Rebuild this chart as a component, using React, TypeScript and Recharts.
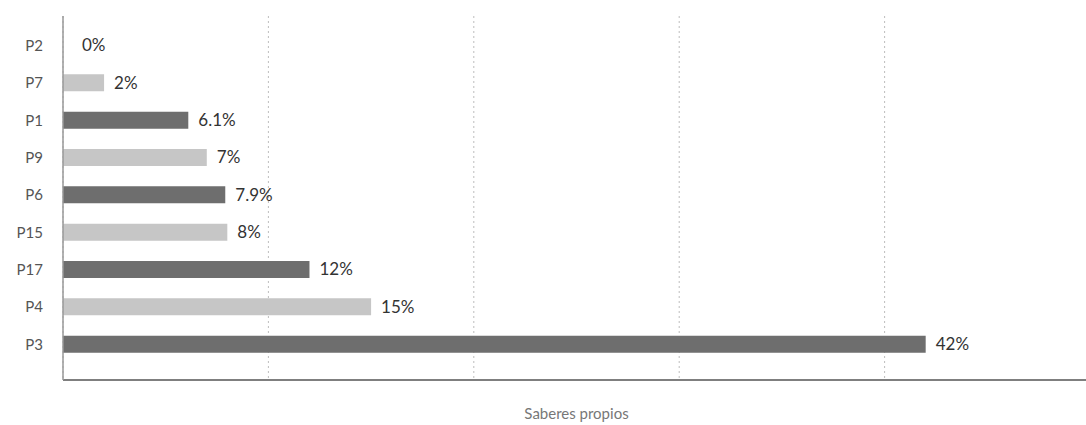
import { BarChart, Bar, XAxis, YAxis, CartesianGrid, Cell, LabelList } from 'recharts'

const categories = ['P2', 'P7', 'P1', 'P9', 'P6', 'P15', 'P17', 'P4', 'P3']
const values = [0, 2, 6.1, 7, 7.9, 8, 12, 15, 42]
const xTicks = [0, 10, 20, 30, 40, 50]

const DARK = '#6e6e6e'
const LIGHT = '#c6c6c6'
const FONT = 'Lato, "DejaVu Sans", sans-serif'

// value label; zero-width bars still get their label a bit off the axis
function ValueLabel(props: any) {
  const { x, y, width, height, value } = props
  const gap = value === 0 ? 18 : 10
  return (
    <text
      x={Number(x) + Number(width) + gap}
      y={Number(y) + Number(height) / 2}
      dy="0.35em"
      fill="#333"
      fontSize={17}
      fontFamily={FONT}
    >
      {`${value}%`}
    </text>
  )
}

export default function App() {
  const data = categories.map((name, i) => ({ name, value: values[i] }))

  return (
    <div style={{ position: 'absolute', left: 0, top: 0, width: 1086, height: 425, overflow: 'hidden', fontFamily: FONT }}>
      <BarChart
        width={1086}
        height={425}
        data={data}
        layout="vertical"
        barSize={17}
        margin={{ top: 16, right: -4, left: 0, bottom: 0 }}
      >
        <CartesianGrid horizontal={false} strokeDasharray="2 3" stroke="#bdbdbd" />
        <XAxis
          type="number"
          domain={[0, 50]}
          ticks={xTicks}
          tick={{ fill: 'transparent' }}
          tickLine={false}
          axisLine={{ stroke: '#555', strokeWidth: 1.5 }}
          height={45}
          label={{
            value: 'Saberes propios',
            position: 'insideBottom',
            offset: 6,
            fill: '#777',
            fontSize: 15,
            fontFamily: FONT,
          }}
        />
        <YAxis
          type="category"
          dataKey="name"
          width={63}
          tickLine={false}
          axisLine={{ stroke: '#999', strokeWidth: 1.5 }}
          tick={{ fill: '#555', fontSize: 15, fontFamily: FONT }}
          tickMargin={14}
          padding={{ top: 11, bottom: 17 }}
        />
        <Bar dataKey="value" isAnimationActive={false} minPointSize={1}>
          {data.map((d, i) => (
            <Cell key={d.name} fill={d.value === 0 ? 'none' : i % 2 === 0 ? DARK : LIGHT} />
          ))}
          <LabelList dataKey="value" content={ValueLabel} />
        </Bar>
      </BarChart>
    </div>
  )
}
